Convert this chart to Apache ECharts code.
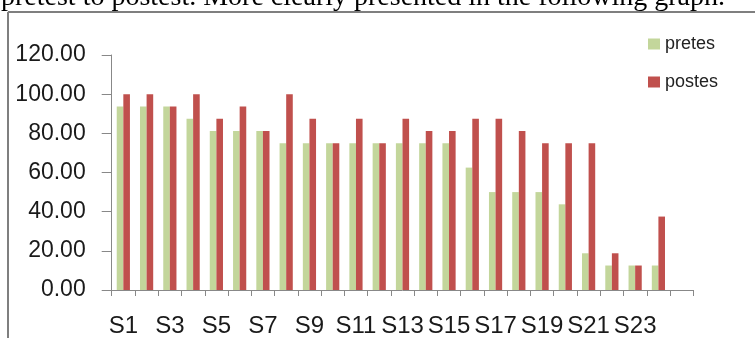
<!DOCTYPE html>
<html>
<head>
<meta charset="utf-8">
<script src="https://cdn.jsdelivr.net/npm/echarts@6/dist/echarts.min.js"></script>
<style>
html,body{margin:0;padding:0;background:#fff;}
#c{width:755px;height:338px;}
</style>
</head>
<body>
<div id="c"></div>
<script>
var categories = ['S1','S2','S3','S4','S5','S6','S7','S8','S9','S10','S11','S12','S13','S14','S15','S16','S17','S18','S19','S20','S21','S22','S23','S24',''];
var pretes = [93.75,93.75,93.75,87.5,81.25,81.25,81.25,75,75,75,75,75,75,75,75,62.5,50,50,50,43.75,18.75,12.5,12.5,12.5,null];
var postes = [100,100,93.75,100,87.5,93.75,81.25,100,87.5,75,87.5,75,87.5,81.25,81.25,87.5,87.5,81.25,75,75,75,18.75,12.5,37.5,null];
var yTicks = [0,20,40,60,80,100,120];
var captionText = 'pretest to postest. More clearly presented in the following graph.';

var chart = echarts.init(document.getElementById('c'), null, {renderer:'canvas'});
var axisColor = '#888888';
chart.setOption({
  animation:false,
  backgroundColor:'#ffffff',
  graphic:[
    {type:'text', left:1, top:-16, style:{text:captionText, font:'28px "Liberation Serif"', fill:'#000'}},
    {type:'line', shape:{x1:8,y1:12,x2:755,y2:12}, style:{stroke:'#7f7f7f', lineWidth:2}},
    {type:'line', shape:{x1:8,y1:12,x2:8,y2:338}, style:{stroke:'#7f7f7f', lineWidth:2}}
  ],
  legend:{
    orient:'vertical',
    left:648, top:35, padding:0,
    itemWidth:12, itemHeight:11, itemGap:20,
    textStyle:{fontFamily:'Liberation Sans', fontSize:18, color:'#222'},
    icon:'rect',
    data:['pretes','postes']
  },
  grid:{left:111.7, right:61.7, top:55, bottom:48, containLabel:false},
  xAxis:{
    type:'category',
    data:categories,
    boundaryGap:true,
    axisLine:{lineStyle:{color:axisColor, width:1}},
    axisTick:{show:true, length:6, interval:0, lineStyle:{color:axisColor}},
    axisLabel:{interval:1, margin:24, fontFamily:'Liberation Sans', fontSize:24, color:'#1a1a1a'}
  },
  yAxis:{
    type:'value',
    min:0, max:120, interval:20,
    axisLine:{show:true, lineStyle:{color:axisColor, width:1}},
    axisTick:{show:true, length:10, lineStyle:{color:axisColor}},
    splitLine:{show:false},
    axisLabel:{margin:26, fontFamily:'Liberation Sans', fontSize:23, color:'#1a1a1a',
      formatter:function(v){return v.toFixed(2);}}
  },
  series:[
    {name:'pretes', type:'bar', data:pretes, barWidth:6.6, barGap:'0%', itemStyle:{color:'#C3D69B'}},
    {name:'postes', type:'bar', data:postes, barWidth:6.6, barGap:'0%', itemStyle:{color:'#C0504D'}}
  ]
});
</script>
</body>
</html>
